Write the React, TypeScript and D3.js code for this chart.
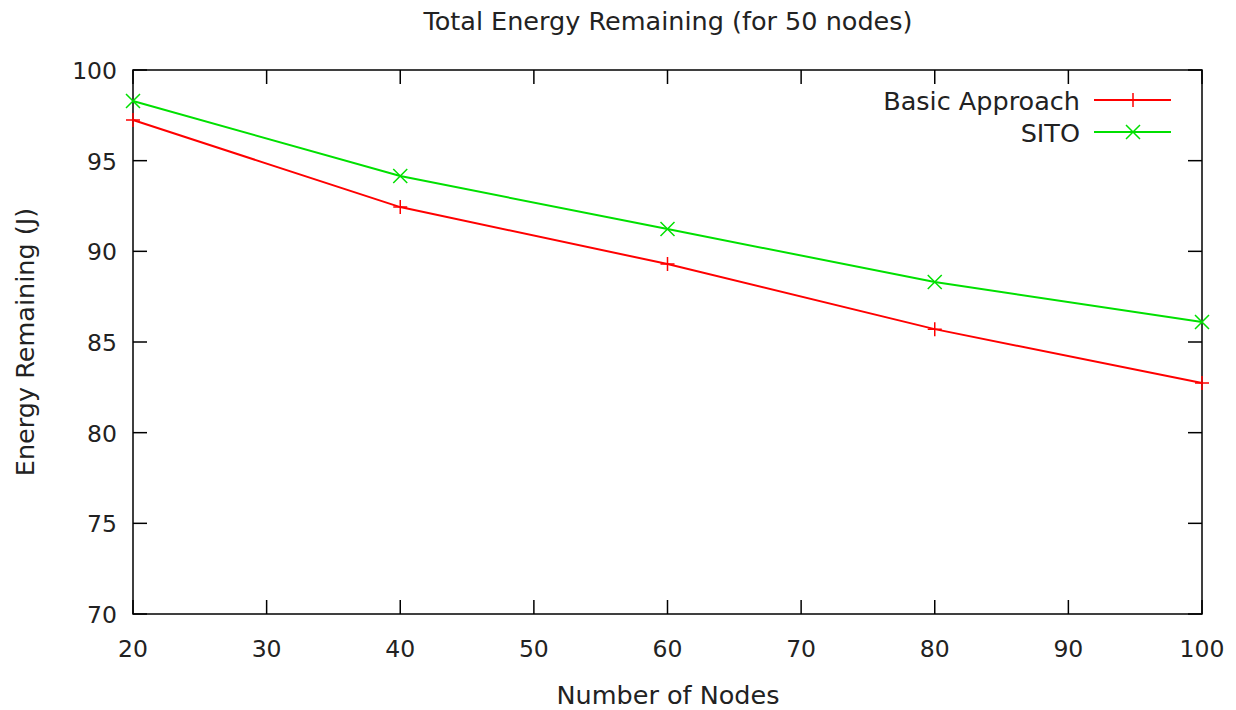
import React from "react";
import * as d3 from "d3";

const WIDTH = 1236;
const HEIGHT = 710;
const margin = { top: 70, right: 34, bottom: 96, left: 133 };

// data
const nodes = [20, 40, 60, 80, 100];
const basicApproach = [97.24, 92.44, 89.3, 85.71, 82.74];
const sito = [98.29, 94.15, 91.23, 88.31, 86.1];

const xTicks = [20, 30, 40, 50, 60, 70, 80, 90, 100];
const yTicks = [70, 75, 80, 85, 90, 95, 100];

const series = [
  { name: "Basic Approach", values: basicApproach, color: "#ff0000", marker: "plus" },
  { name: "SITO", values: sito, color: "#00e000", marker: "cross" },
];

const FONT = "DejaVu Sans, sans-serif";
const TICK = 14;
const LABEL_SIZE = 25.5;
const TICK_SIZE = 23.5;

function Marker({ x, y, type, color }) {
  const s = 7;
  if (type === "plus") {
    return (
      <path
        d={`M${x - s},${y}H${x + s}M${x},${y - s}V${y + s}`}
        stroke={color}
        strokeWidth={1.5}
      />
    );
  }
  return (
    <path
      d={`M${x - s},${y - s}L${x + s},${y + s}M${x - s},${y + s}L${x + s},${y - s}`}
      stroke={color}
      strokeWidth={1.5}
    />
  );
}

export default function App() {
  const x0 = margin.left;
  const x1 = WIDTH - margin.right;
  const y0 = HEIGHT - margin.bottom;
  const y1 = margin.top;

  const xScale = d3.scaleLinear().domain([20, 100]).range([x0, x1]);
  const yScale = d3.scaleLinear().domain([70, 100]).range([y0, y1]);

  const line = d3
    .line<number>()
    .x((_, i) => xScale(nodes[i]))
    .y((d) => yScale(d));

  return (
    <svg
      width={WIDTH}
      height={HEIGHT}
      style={{ position: "absolute", left: 0, top: 0, background: "#fff" }}
      fontFamily={FONT}
    >
      <rect width={WIDTH} height={HEIGHT} fill="#fff" />

      {/* ticks, mirrored on all sides */}
      {xTicks.map((t) => (
        <g key={"x" + t}>
          <line x1={xScale(t)} x2={xScale(t)} y1={y0} y2={y0 - TICK} stroke="#000" strokeWidth={1.5} />
          <line x1={xScale(t)} x2={xScale(t)} y1={y1} y2={y1 + TICK} stroke="#000" strokeWidth={1.5} />
          <text x={xScale(t)} y={657} textAnchor="middle" fontSize={TICK_SIZE} fill="#222">
            {t}
          </text>
        </g>
      ))}
      {yTicks.map((t) => (
        <g key={"y" + t}>
          <line x1={x0} x2={x0 + TICK} y1={yScale(t)} y2={yScale(t)} stroke="#000" strokeWidth={1.5} />
          <line x1={x1} x2={x1 - TICK} y1={yScale(t)} y2={yScale(t)} stroke="#000" strokeWidth={1.5} />
          <text x={117} y={yScale(t) + 9} textAnchor="end" fontSize={TICK_SIZE} fill="#222">
            {t}
          </text>
        </g>
      ))}

      <rect
        x={x0}
        y={y1}
        width={x1 - x0}
        height={y0 - y1}
        fill="none"
        stroke="#000"
        strokeWidth={1.5}
      />

      {series.map((s) => (
        <g key={s.name}>
          <path d={line(s.values)} fill="none" stroke={s.color} strokeWidth={2} />
          {s.values.map((v, i) => (
            <Marker key={i} x={xScale(nodes[i])} y={yScale(v)} type={s.marker} color={s.color} />
          ))}
        </g>
      ))}

      {/* legend */}
      {series.map((s, i) => {
        const ly = 100 + i * 32;
        return (
          <g key={"leg" + s.name}>
            <text x={1080} y={ly + 10} textAnchor="end" fontSize={LABEL_SIZE} fill="#222">
              {s.name}
            </text>
            <line x1={1094} x2={1171} y1={ly} y2={ly} stroke={s.color} strokeWidth={2} />
            <Marker x={1133} y={ly} type={s.marker} color={s.color} />
          </g>
        );
      })}

      <text x={668} y={30} textAnchor="middle" fontSize={LABEL_SIZE} fill="#222">
        Total Energy Remaining (for 50 nodes)
      </text>
      <text x={668} y={704} textAnchor="middle" fontSize={LABEL_SIZE} fill="#222">
        Number of Nodes
      </text>
      <text
        transform={`translate(34, ${(y0 + y1) / 2}) rotate(-90)`}
        textAnchor="middle"
        fontSize={LABEL_SIZE}
        fill="#222"
      >
        Energy Remaining (J)
      </text>
    </svg>
  );
}
